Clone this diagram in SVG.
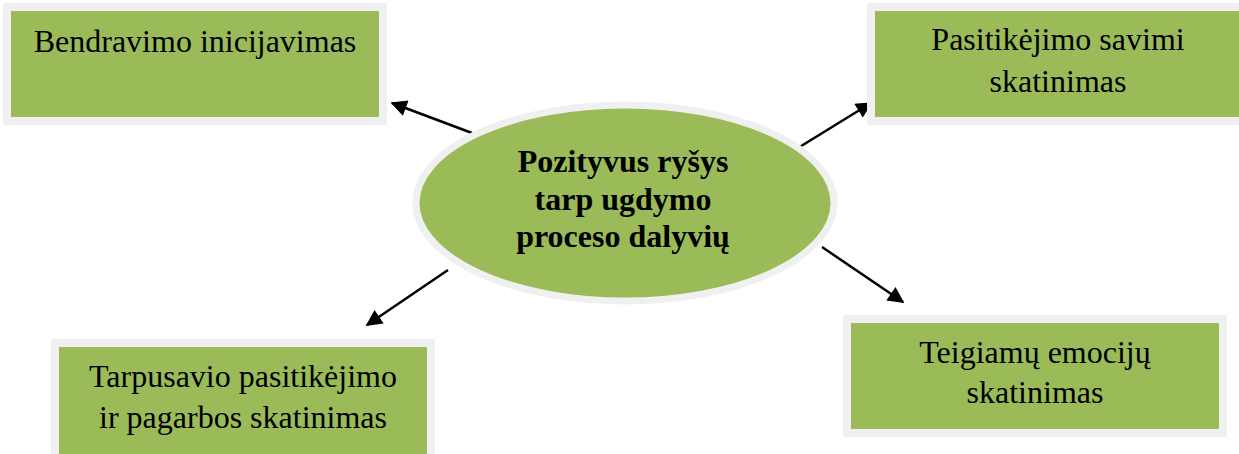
<svg xmlns="http://www.w3.org/2000/svg" width="1239" height="454" viewBox="0 0 1239 454">
<defs>
<style>
.box{fill:#9bbb59;stroke:#f0f0f0;stroke-width:8}
.t{font-size:32px;fill:#000;text-anchor:middle}
.tb{font-size:32px;font-weight:bold;fill:#000;text-anchor:middle}
.c{stroke:#000;stroke-width:2.5;fill:none;marker-end:url(#ah)}
</style>
<marker id="ah" viewBox="0 0 10 10" refX="9" refY="5" markerWidth="7.5" markerHeight="6.5" markerUnits="strokeWidth" orient="auto">
<path d="M0,0 L10,5 L0,10 z" fill="#000"/>
</marker>
</defs>
<rect width="1239" height="454" fill="#fff"/>
<g id="connectors">
<line class="c" x1="472" y1="133" x2="392" y2="103"/>
<line class="c" x1="798" y1="148" x2="871" y2="103"/>
<line class="c" x1="448" y1="270" x2="367" y2="325"/>
<line class="c" x1="822" y1="247" x2="903" y2="302"/>
</g>
<g id="center" font-family="'Liberation Serif', 'Times New Roman', 'DejaVu Serif', serif">
<ellipse cx="625" cy="203" rx="209" ry="98" fill="#9bbb59" stroke="#f0f0f0" stroke-width="7"/>
<text class="tb" x="623" y="172">Pozityvus ryšys</text>
<text class="tb" x="623" y="210">tarp ugdymo</text>
<text class="tb" x="623" y="247">proceso dalyvių</text>
</g>
<g id="n1" font-family="'Liberation Serif', 'Times New Roman', 'DejaVu Serif', serif">
<rect class="box" x="7" y="7" width="376" height="114"/>
<text class="t" x="195" y="52">Bendravimo inicijavimas</text>
</g>
<g id="n2" font-family="'Liberation Serif', 'Times New Roman', 'DejaVu Serif', serif">
<rect class="box" x="871" y="7" width="374" height="114"/>
<text class="t" x="1058" y="50">Pasitikėjimo savimi</text>
<text class="t" x="1058" y="92">skatinimas</text>
</g>
<g id="n3" font-family="'Liberation Serif', 'Times New Roman', 'DejaVu Serif', serif">
<rect class="box" x="55" y="343" width="376" height="120"/>
<text class="t" x="243" y="387">Tarpusavio pasitikėjimo</text>
<text class="t" x="243" y="428">ir pagarbos skatinimas</text>
</g>
<g id="n4" font-family="'Liberation Serif', 'Times New Roman', 'DejaVu Serif', serif">
<rect class="box" x="847" y="319" width="376" height="114"/>
<text class="t" x="1035" y="363">Teigiamų emocijų</text>
<text class="t" x="1035" y="403">skatinimas</text>
</g>
</svg>
